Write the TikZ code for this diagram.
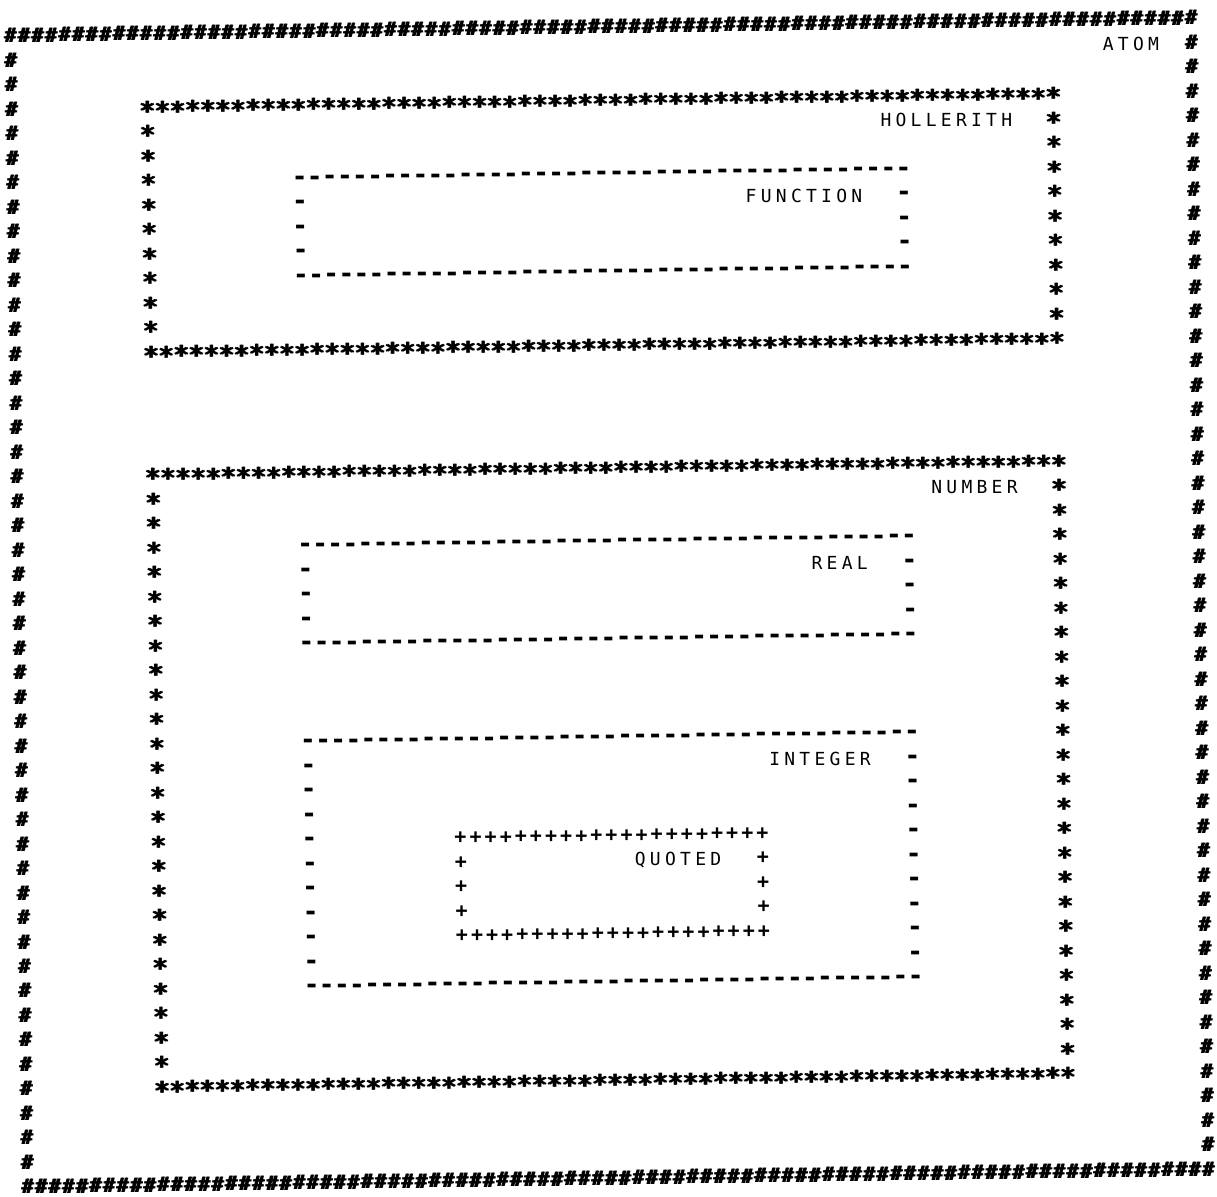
\documentclass[tikz,border=0pt]{standalone}
\usepackage{fontspec}
\newfontfamily\prfont{DejaVu Sans Mono}
\newfontfamily\prlabel[LetterSpace=23.7]{DejaVu Sans Mono}

\tikzset{
  pc/.style={inner sep=0pt, anchor=base, font=\prfont\bfseries\fontsize{#1}{#1}\selectfont},
  hashch/.style={pc=10, yshift=-3.6pt},
  starch/.style={pc=13, yshift=-6.8pt},
  dashch/.style={pc=13, yshift=-3.6pt},
  plusch/.style={pc=10, yshift=-3.3pt},
  lbl/.style={inner sep=0pt, anchor=base west, font=\prlabel\fontsize{9}{9}\selectfont, yshift=-3.3pt},
}

% heavy, struck twice
\newcommand\heavy[1]{\rlap{#1}\hspace{0.7pt}#1}

% box of printed characters: name, style, char, c1, c2, r1, r2
\newcommand\prbox[7]{%
  \foreach \c in {#4,...,#5}{
    \node[#2] (#1-t\c) at (\c,#6) {#3};
    \node[#2] (#1-b\c) at (\c,#7) {#3};
  }
  \pgfmathtruncatemacro\rtop{#6+1}
  \pgfmathtruncatemacro\rbot{#7-1}
  \foreach \r in {\rtop,...,\rbot}{
    \node[#2] (#1-l\r) at (#4,\r) {#3};
    \node[#2] (#1-r\r) at (#5,\r) {#3};
  }
}

\begin{document}
\begin{tikzpicture}[x=7.55pt, y=-12.25pt]
  \useasboundingbox (-9.5pt,1pt) rectangle (599pt,-597pt);

  \begin{scope}[rotate around={0.86:(39,24.3)}]
    % outer box, tighter pitch
    \foreach \i in {0,...,87}{
      \node[hashch] (atom-t\i) at (\i*0.8989,1) {\heavy{\#}};
      \node[hashch] (atom-b\i) at (\i*0.8989,48) {\heavy{\#}};
    }
    \foreach \r in {2,...,47}{
      \node[hashch] (atom-l\r) at (0,\r) {\heavy{\#}};
      \node[hashch] (atom-r\r) at (78.2,\r) {\heavy{\#}};
    }
    \node[lbl] (atom) at (72.3,2) {ATOM};

    \prbox{hol}{starch}{\heavy{*}}{9}{69}{4}{14}
    \node[lbl] (hol) at (57.5,5) {HOLLERITH};

    \prbox{fun}{dashch}{-}{19}{59}{7}{11}
    \node[lbl] (fun) at (48.5,8) {FUNCTION};

    \prbox{num}{starch}{\heavy{*}}{9}{69}{19}{44}
    \node[lbl] (num) at (60.5,20) {NUMBER};

    \prbox{real}{dashch}{-}{19}{59}{22}{26}
    \node[lbl] (real) at (52.5,23) {REAL};

    \prbox{int}{dashch}{-}{19}{59}{30}{40}
    \node[lbl] (int) at (49.5,31) {INTEGER};

    \prbox{quo}{plusch}{+}{29}{49}{34}{38}
    \node[lbl] (quo) at (40.5,35) {QUOTED};
  \end{scope}
\end{tikzpicture}
\end{document}
